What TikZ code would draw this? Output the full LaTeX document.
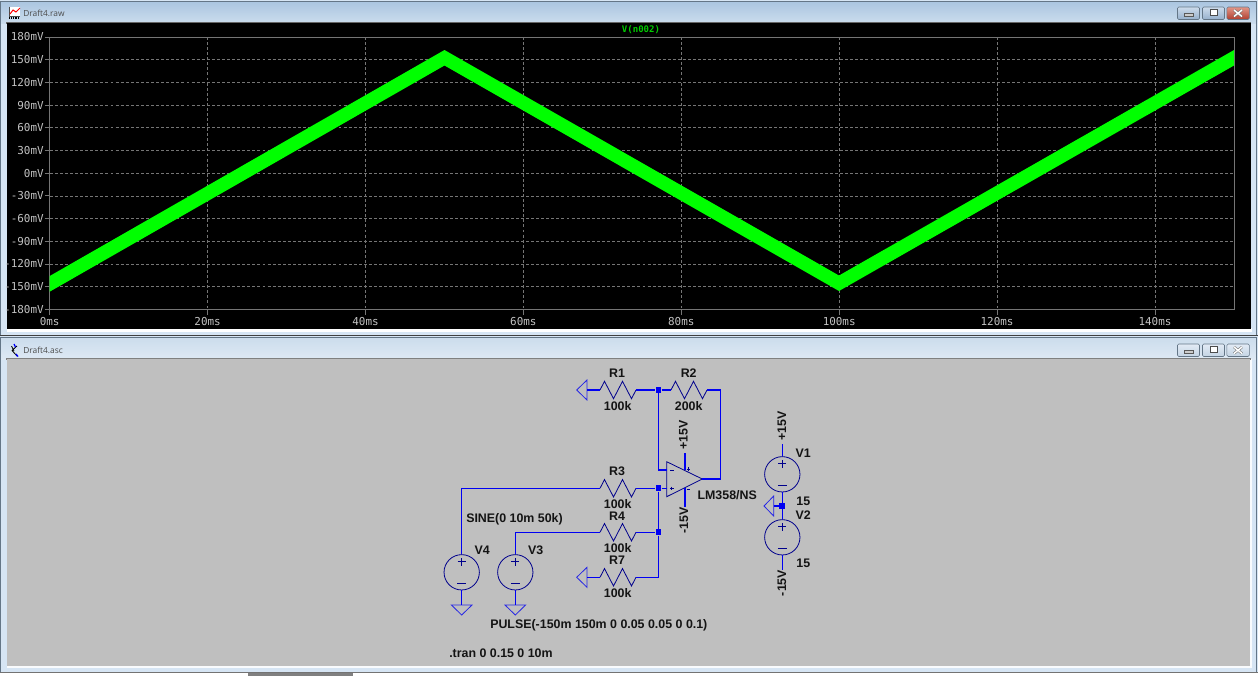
\documentclass[tikz,border=0pt]{standalone}
\usepackage{fontspec}
\usetikzlibrary{calc}
\setmainfont{Liberation Sans}
\newfontfamily\plotfont{DejaVu Sans Mono}
\newfontfamily\uifont{Open Sans}
\definecolor{wirecol}{rgb}{0,0,0.95}
\definecolor{partcol}{rgb}{0,0,0.55}
\definecolor{gndcol}{rgb}{0.15,0.15,0.9}
\definecolor{gridcol}{rgb}{0.46,0.46,0.46}
\definecolor{labelcol}{rgb}{0.76,0.76,0.76}
\definecolor{tracecol}{rgb}{0,1,0}
\definecolor{paper}{rgb}{0.75,0.75,0.75}
\definecolor{framecol}{RGB}{214,229,244}
\definecolor{bartopa}{RGB}{170,197,224}
\definecolor{barbota}{RGB}{203,220,237}
\definecolor{bartopb}{RGB}{203,220,236}
\definecolor{barbotb}{RGB}{222,233,244}
\definecolor{btntopa}{RGB}{205,220,236}
\definecolor{btnbota}{RGB}{150,176,204}
\definecolor{btntopb}{RGB}{226,235,245}
\definecolor{btnbotb}{RGB}{196,212,228}
\definecolor{closetop}{RGB}{226,150,135}
\definecolor{closebot}{RGB}{176,62,48}
\definecolor{edgecol}{RGB}{100,118,135}
\tikzset{
	wire/.style={draw=wirecol,line width=0.85pt},
	part/.style={draw=partcol,line width=0.6pt},
	gnd/.style={draw=gndcol,line width=0.6pt},
	source/.style={circle,draw=partcol,line width=0.6pt,minimum size=26.5pt,inner sep=0pt},
	dot/.style={rectangle,fill=wirecol,minimum size=4.4pt,inner sep=0pt},
	txt/.style={inner sep=0pt,font=\fontsize{9.3}{11}\selectfont\bfseries,text=black!92},
	axlbl/.style={inner sep=0pt,font=\plotfont\fontsize{8.2}{10}\selectfont,text=labelcol},
	title/.style={inner sep=0pt,anchor=west,font=\uifont\fontsize{6.3}{8}\selectfont,text=black!70},
	grid/.style={draw=gridcol,line width=0.5pt,dash pattern=on 2.2pt off 1.6pt},
	btn/.style={draw=edgecol,rounded corners=1pt,line width=0.4pt},
}
\begin{document}
\begin{tikzpicture}[x=0.75pt,y=0.75pt,yscale=-1,xscale=1]
	\useasboundingbox (0,0) rectangle (1258,676);
	
	%Shape: window frames
	\fill [color=framecol] (0,0) rectangle (1258,676);
	\shade [top color=bartopa,bottom color=barbota] (1,1) rectangle (1256,23);
	\shade [top color=bartopb,bottom color=barbotb] (1,337) rectangle (1256,359);
	\draw [draw=edgecol,line width=0.75pt] (0.5,335.8) -- (0.5,1) -- (1256.5,1) -- (1256.5,335.8);
	\draw [draw=black!75,line width=0.9pt] (0,335.8) -- (1258,335.8);
	\draw [draw=edgecol,line width=0.75pt] (0.5,672.5) -- (0.5,337) -- (1256.5,337) -- (1256.5,672.5);
	\draw [draw=black!55,line width=0.75pt] (0,672.5) -- (1258,672.5);
	\fill [color=white] (0,673) rectangle (1258,676);
	\fill [color=black!50] (248,673) rectangle (353,676);
	\fill [color=white] (7,328) rectangle (1252,332);
	\fill [color=white!85!framecol] (7,359) rectangle (1252,668);
	
	%Shape: plot and schematic panes
	\fill [color=black!60] (6,22) rectangle (1251,24);
	\fill [color=black] (7,23) rectangle (1250.5,329);
	\fill [color=black!50] (6,358) rectangle (1251,360);
	\fill [color=paper] (7,359) rectangle (1250,666);
	
	%Shape: buttons
	\draw [btn,top color=btntopa,bottom color=btnbota] (1177.5,7) rectangle (1199.5,19.5);
	\draw [btn,top color=btntopa,bottom color=btnbota] (1202.5,7) rectangle (1224.5,19.5);
	\draw [btn,top color=closetop,bottom color=closebot] (1226.8,7) rectangle (1249.3,19.5);
	\draw [btn,top color=btntopb,bottom color=btnbotb] (1177.5,344) rectangle (1199.5,356.5);
	\draw [btn,top color=btntopb,bottom color=btnbotb] (1202.5,344) rectangle (1224.5,356.5);
	\draw [btn,top color=btntopb,bottom color=btnbotb] (1226.8,344) rectangle (1249.3,356.5);
	\foreach \yy in {0,337}{
		\draw [color=black!65,fill=white!80!black,line width=0.4pt] (1184,13.2+\yy) rectangle (1193,16+\yy);
		\draw [color=black!70,fill=white,line width=0.6pt] (1210,9.8+\yy) rectangle (1217,15.8+\yy);
		\draw [color=black!55,line width=1.9pt] (1234,10+\yy) -- (1242,16.5+\yy) (1242,10+\yy) -- (1234,16.5+\yy);
		\draw [color=white,line width=1.1pt] (1234,10+\yy) -- (1242,16.5+\yy) (1242,10+\yy) -- (1234,16.5+\yy);
	}
	
	%Shape: window icons
	\fill [color=white] (9,7) rectangle (20,16);
	\draw [color=black!70,line width=0.4pt] (9,6.5) -- (9,16) -- (20,16);
	\draw [color=black,line width=1pt,dash pattern=on 0.7pt off 0.7pt] (9,18) -- (20,18);
	\draw [color=red,line width=0.75pt] (10,14) -- (13,10) -- (16,12) -- (20,8);
	\draw [color=black,line width=0.6pt] (14,351) -- (11.5,346) (12,350.5) -- (17,346) (12,350.5) -- (17,356);
	\draw [color=blue,line width=1pt] (14,344) -- (15.5,347) (16,354) -- (18,356.5);
	
	% Text Node
	\node [title] (rawtitle) at (23,13.5) {Draft4.raw};
	\node [title] (asctitle) at (23,350.5) {Draft4.asc};
	
	%Straight Lines: horizontal grid and labels
	\foreach \lab [count=\i from 0] in {180mV,150mV,120mV,90mV,60mV,30mV,0mV,-30mV,-60mV,-90mV,-120mV,-150mV,-180mV}{
		\pgfmathsetmacro{\yy}{37+\i*22.69}
		\draw [color=gridcol,line width=0.6pt] (44.5,\yy) -- (49.7,\yy);
		\ifnum\i>0 \ifnum\i<12
		\draw [grid] (49.7,\yy) -- (1234,\yy);
		\fi\fi
		\node [axlbl,anchor=east] (ylab\i) at (44,\yy) {\lab};
	}
	%Straight Lines: vertical grid and labels
	\foreach \lab [count=\i from 0] in {0ms,20ms,40ms,60ms,80ms,100ms,120ms,140ms}{
		\pgfmathsetmacro{\xx}{49.7+\i*157.9}
		\draw [color=gridcol,line width=0.6pt] (\xx,309.3) -- (\xx,315);
		\ifnum\i>0 \draw [grid] (\xx,37) -- (\xx,309.3); \fi
		\node [axlbl] (xlab\i) at (\xx,321.5) {\lab};
	}
	\draw [color=gridcol,line width=0.75pt] (49.7,37) rectangle (1234,309.3);
	
	%Shape: green trace
	\fill [color=tracecol] (49.7,276) -- (444.5,50) -- (839,275.5) -- (1234,50) -- (1234,65.5) -- (839,291) -- (444.5,65.5) -- (49.7,291.7) -- cycle;
	
	% Text Node
	\node [axlbl,text=tracecol!80!black,font=\plotfont\fontsize{6.8}{9}\selectfont\bfseries] (trace) at (641,29.5) {V(n002)};
	
	%Shape: resistors
	\foreach \name/\xx/\yy in {R1/600/390,R2/671/390,R3/600/488.3,R4/600/532.3,R7/600/577.3}{
		\coordinate (\name a) at (\xx,\yy);
		\coordinate (\name b) at (\xx+36,\yy);
		\draw [part] (\name a) -- ++(4.5,-8.7) -- ++(9,17.4) -- ++(9,-17.4) -- ++(9,17.4) -- (\name b);
	}
	
	%Shape: voltage sources
	\node [source] (V1) at (782.3,474.3) {};
	\node [source] (V2) at (782.3,537.3) {};
	\node [source] (V3) at (515.3,572.3) {};
	\node [source] (V4) at (461.7,572.3) {};
	\foreach \name in {V1,V2,V3,V4}{
		\draw [part] ($(\name.center)+(-4,-10.5)$) -- ++(8,0) ($(\name.center)+(0,-14.5)$) -- ++(0,8);
		\draw [part] ($(\name.center)+(-4.5,11.5)$) -- ++(9,0);
	}
	
	%Shape: ground symbols, named by their stem
	\foreach \name/\xx/\yy in {G1/587/390,G7/587/577.3}{
		\coordinate (\name) at (\xx,\yy);
		\draw [gnd] (\xx,\yy-10) -- (\xx,\yy+10) -- (\xx-10.3,\yy) -- cycle;
	}
	\coordinate (G5) at (773.7,506);
	\draw [gnd] (773.7,496) -- (773.7,516) -- (764,506) -- cycle;
	\foreach \name/\xx in {G4/461.7,G3/515.3}{
		\coordinate (\name) at (\xx,605);
		\draw [gnd] (\xx-10.3,605) -- (\xx+10.3,605) -- (\xx,615) -- cycle;
	}
	
	%Shape: opamp
	\coordinate (Otop) at (666.7,461.7);
	\coordinate (Obot) at (666.7,496.7);
	\coordinate (Oout) at (702.3,479);
	\coordinate (Oinv) at (666.7,470);
	\coordinate (Onon) at (666.7,488.3);
	\coordinate (Opos) at (685,470.3);
	\coordinate (Oneg) at (685,488);
	\draw [part] (Otop) -- (Oout) -- (Obot) -- cycle;
	\draw [part,line width=0.4pt] (670,470.5) -- (673.5,470.5) (670,488.5) -- (673.5,488.5) (671.7,486.7) -- (671.7,490.3);
	\draw [part,line width=0.4pt] (686.5,469) -- (690,469) (688.2,467.2) -- (688.2,470.8) (686.5,489) -- (690,489);
	
	%Shape: junctions
	\node [dot] (J1) at (658.5,390) {};
	\node [dot] (J3) at (658.5,488.3) {};
	\node [dot] (J4) at (658.5,532.3) {};
	\node [dot] (J5) at (782.3,506) {};
	
	%Straight Lines: wires
	\coordinate (Vfb) at (720.5,390);
	\coordinate (Pos) at (685,453);
	\coordinate (Neg) at (685,506.7);
	\coordinate (Vp) at (782.3,444.3);
	\coordinate (Vn) at (782.3,570);
	\draw [wire] (G1) -- (R1a);
	\draw [wire] (R1b) -- (J1) -- (R2a);
	\draw [wire] (R2b) -- (Vfb) |- (Oout);
	\draw [wire] (J1) |- (Oinv);
	\draw [wire] (V4.north) |- (R3a);
	\draw [wire] (R3b) -- (J3) -- (Onon);
	\draw [wire] (J3) -- (J4);
	\draw [wire] (V3.north) |- (R4a);
	\draw [wire] (R4b) -- (J4);
	\draw [wire] (J4) |- (R7b);
	\draw [wire] (G7) -- (R7a);
	\draw [wire] (V4.south) -- (G4);
	\draw [wire] (V3.south) -- (G3);
	\draw [wire] (Pos) -- (Opos);
	\draw [wire] (Oneg) -- (Neg);
	\draw [wire] (Vp) -- (V1.north);
	\draw [wire] (V1.south) -- (J5) -- (V2.north);
	\draw [wire] (G5) -- (J5);
	\draw [wire] (V2.south) -- (Vn);
	
	% Text Node
	\node [txt] (R1lab) at (617,373) {R1};
	\node [txt] (R1val) at (617.7,405.7) {100k};
	\node [txt] (R2lab) at (688.7,373) {R2};
	\node [txt] (R2val) at (688.7,405.7) {200k};
	\node [txt] (R3lab) at (617,471.7) {R3};
	\node [txt] (R3val) at (617.7,504) {100k};
	\node [txt] (R4lab) at (617,516.7) {R4};
	\node [txt] (R4val) at (617.7,548) {100k};
	\node [txt] (R7lab) at (617,560.7) {R7};
	\node [txt] (R7val) at (617.7,593.3) {100k};
	\node [txt] (V4lab) at (482.3,550) {V4};
	\node [txt] (V3lab) at (535.7,550) {V3};
	\node [txt] (V1lab) at (803.3,453.3) {V1};
	\node [txt] (V1val) at (803.3,501.7) {15};
	\node [txt] (V2lab) at (803.3,515) {V2};
	\node [txt] (V2val) at (803.3,563.3) {15};
	\node [txt,anchor=west] (sine) at (466,519) {SINE(0 10m 50k)};
	\node [txt,anchor=west] (pulse) at (490,625) {PULSE(-150m 150m 0 0.05 0.05 0 0.1)};
	\node [txt,anchor=west] (tran) at (449,653.3) {.tran 0 0.15 0 10m};
	\node [txt,anchor=west] (model) at (697.3,495) {LM358/NS};
	\node [txt,rotate=90] (oppos) at (683.5,435) {+15V};
	\node [txt,rotate=90] (opneg) at (684,520.7) {-15V};
	\node [txt,rotate=90] (vpos) at (782,426) {+15V};
	\node [txt,rotate=90] (vneg) at (782,583) {-15V};
\end{tikzpicture}
\end{document}
